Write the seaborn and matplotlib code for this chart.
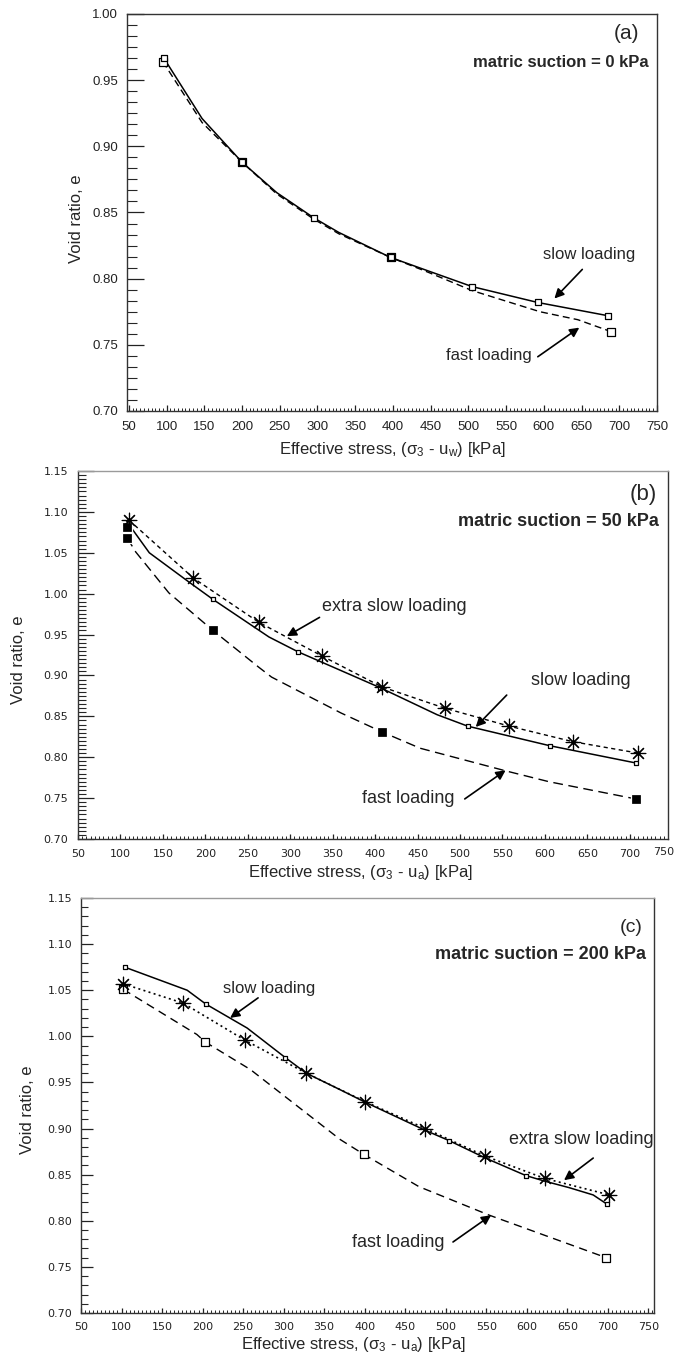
import numpy as np
import pandas as pd
import matplotlib
matplotlib.use("Agg")
import matplotlib.pyplot as plt
import matplotlib.transforms as mtransforms
from matplotlib.ticker import MultipleLocator, AutoMinorLocator, FormatStrFormatter
import seaborn as sns

# ---------------- data ----------------
# panel (a): matric suction = 0 kPa
a_slow_line_x = [96, 147, 200, 246, 295, 328, 397, 446, 505, 592, 685]
a_slow_line_y = [0.967, 0.921, 0.888, 0.865, 0.846, 0.835, 0.816, 0.806, 0.794, 0.782, 0.772]
a_slow_pts_x = [96, 200, 295, 397, 505, 592, 685]
a_slow_pts_y = [0.967, 0.888, 0.846, 0.816, 0.794, 0.782, 0.772]
a_fast_line_x = [95, 147, 200, 246, 295, 328, 397, 446, 505, 595, 645, 689]
a_fast_line_y = [0.964, 0.918, 0.888, 0.864, 0.845, 0.834, 0.816, 0.805, 0.791, 0.775, 0.769, 0.760]
a_fast_pts_x = [95, 200, 397, 689]
a_fast_pts_y = [0.964, 0.888, 0.816, 0.760]

# panel (b): matric suction = 50 kPa
b_xslow_x = [110, 186, 263, 337, 408, 482, 558, 633, 710]
b_xslow_y = [1.090, 1.019, 0.965, 0.924, 0.886, 0.860, 0.838, 0.819, 0.805]
b_slow_line_x = [109, 134, 181, 209, 275, 309, 406, 473, 509, 606, 707]
b_slow_line_y = [1.086, 1.050, 1.014, 0.993, 0.947, 0.929, 0.885, 0.852, 0.838, 0.814, 0.793]
b_slow_pts_x = [109, 209, 309, 406, 509, 606, 707]
b_slow_pts_y = [1.086, 0.993, 0.929, 0.885, 0.838, 0.814, 0.793]
b_fast_line_x = [108, 118, 157, 209, 263, 278, 360, 408, 453, 555, 605, 707]
b_fast_line_y = [1.068, 1.051, 1.001, 0.955, 0.910, 0.898, 0.854, 0.831, 0.811, 0.783, 0.770, 0.749]
b_fast_pts_x = [108, 108, 209, 408, 707]
b_fast_pts_y = [1.081, 1.068, 0.955, 0.831, 0.749]

# panel (c): matric suction = 200 kPa
c_xslow_x = [102, 176, 252, 328, 401, 475, 549, 622, 702]
c_xslow_y = [1.057, 1.036, 0.996, 0.960, 0.929, 0.900, 0.870, 0.846, 0.828]
c_slow_line_x = [104, 181, 204, 255, 302, 328, 370, 402, 475, 504, 549, 599, 622, 652, 682, 699]
c_slow_line_y = [1.075, 1.050, 1.035, 1.009, 0.977, 0.960, 0.942, 0.928, 0.898, 0.887,
                 0.868, 0.849, 0.843, 0.836, 0.828, 0.818]
c_slow_pts_x = [104, 204, 302, 504, 599, 699]
c_slow_pts_y = [1.075, 1.035, 0.977, 0.887, 0.849, 0.818]
c_fast_line_x = [102, 193, 203, 259, 370, 399, 467, 554, 698]
c_fast_line_y = [1.051, 1.002, 0.994, 0.964, 0.888, 0.872, 0.837, 0.806, 0.760]
c_fast_pts_x = [102, 203, 399, 698]
c_fast_pts_y = [1.051, 0.994, 0.872, 0.760]

x_label_w = "Effective stress, (\u03c3$_3$ - u$_w$) [kPa]"
x_label_a = "Effective stress, (\u03c3$_3$ - u$_a$) [kPa]"
y_label = "Void ratio, e"

# ---------------- style ----------------
sns.set_theme(style="ticks")
plt.rcParams["font.family"] = ["Liberation Sans", "DejaVu Sans"]
plt.rcParams["mathtext.fontset"] = "custom"
plt.rcParams["mathtext.rm"] = "Liberation Sans"
plt.rcParams["mathtext.it"] = "Liberation Sans"
plt.rcParams["mathtext.bf"] = "Liberation Sans:bold"

W, H = 676, 1358
fig = plt.figure(figsize=(W / 100, H / 100), dpi=100)


def add_ax(l, r, t, b):
    return fig.add_axes([l / W, 1 - b / H, (r - l) / W, (b - t) / H])


def line(ax, x, y, ls, lw=1.0):
    df = pd.DataFrame({"x": x, "y": y})
    sns.lineplot(data=df, x="x", y="y", ax=ax, color="black", linestyle=ls,
                 linewidth=lw, estimator=None, sort=False, zorder=2)


def pts(ax, x, y, marker, size, face="white", lw=0.9):
    df = pd.DataFrame({"x": x, "y": y})
    if face is None:
        sns.scatterplot(data=df, x="x", y="y", ax=ax, marker=marker, s=size,
                        color="black", linewidth=lw, zorder=3)
    else:
        sns.scatterplot(data=df, x="x", y="y", ax=ax, marker=marker, s=size,
                        color=face, edgecolor="black", linewidth=lw, zorder=3)


def style_axes(ax, xlim, ylim, yminor, ylen, xlen, ypad, xpad, tick_font, tick_size,
               top_color):
    ax.set_xlim(*xlim)
    ax.set_ylim(*ylim)
    ax.xaxis.set_major_locator(MultipleLocator(50))
    ax.xaxis.set_minor_locator(MultipleLocator(5))
    ax.yaxis.set_major_locator(MultipleLocator(0.05))
    ax.yaxis.set_minor_locator(AutoMinorLocator(yminor))
    ax.yaxis.set_major_formatter(FormatStrFormatter("%.2f"))
    ax.tick_params(axis="y", which="major", direction="in", length=ylen[0], width=0.9,
                   pad=ypad, labelsize=tick_size, colors="#222222")
    ax.tick_params(axis="y", which="minor", direction="in", length=ylen[1], width=0.8)
    ax.tick_params(axis="x", which="major", direction="in", length=xlen[0], width=0.9,
                   pad=xpad, labelsize=tick_size, colors="#222222")
    ax.tick_params(axis="x", which="minor", direction="in", length=xlen[1], width=0.7)
    for lbl in ax.get_xticklabels() + ax.get_yticklabels():
        lbl.set_fontfamily(tick_font)
    for s in ["left", "bottom", "right"]:
        ax.spines[s].set_color("#333333")
        ax.spines[s].set_linewidth(1.0)
    ax.spines["top"].set_color(top_color)
    ax.spines["top"].set_linewidth(1.0)


arrow_kw = dict(arrowstyle="-|>", color="black", lw=1.2, mutation_scale=14,
                shrinkA=0, shrinkB=0)

# ---------------- panel (a) ----------------
ax = add_ax(127, 657, 14, 411)
line(ax, a_slow_line_x, a_slow_line_y, "-", 1.1)
line(ax, a_fast_line_x, a_fast_line_y, (0, (5, 3)), 1.0)
pts(ax, a_fast_pts_x, a_fast_pts_y, "s", 36)
pts(ax, a_slow_pts_x, a_slow_pts_y, "s", 14)
style_axes(ax, (47.5, 750), (0.70, 1.00), 6, (12, 7), (4.5, 2.5), 6.5, 7,
           "Liberation Sans", 9.5, "#333333")
ax.set_xlabel(x_label_w, fontsize=12, va="center", ha="center")
ax.xaxis.set_label_coords(0.5, -0.097)
ax.set_ylabel(y_label, fontsize=12, va="center", ha="center")
ax.yaxis.set_label_coords(-0.096, 0.485)
ax.text(0.943, 0.952, "(a)", transform=ax.transAxes, fontsize=15, ha="center", va="center")
ax.text(0.985, 0.877, "matric suction = 0 kPa", transform=ax.transAxes, fontsize=12,
        fontweight="bold", ha="right", va="center")
ax.text(0.872, 0.395, "slow loading", transform=ax.transAxes, fontsize=12,
        ha="center", va="center")
ax.text(0.683, 0.139, "fast loading", transform=ax.transAxes, fontsize=12,
        ha="center", va="center")
ax.annotate("", xy=(614, 0.785), xytext=(651, 0.807), arrowprops=arrow_kw)
ax.annotate("", xy=(647, 0.763), xytext=(592, 0.741), arrowprops=arrow_kw)

# ---------------- panel (b) ----------------
ax = add_ax(78, 668, 471, 839)
line(ax, b_xslow_x, b_xslow_y, (0, (3, 2.5)), 1.0)
line(ax, b_slow_line_x, b_slow_line_y, "-", 1.1)
line(ax, b_fast_line_x, b_fast_line_y, (0, (7, 4)), 1.0)
pts(ax, b_slow_pts_x, b_slow_pts_y, "s", 12)
pts(ax, b_fast_pts_x, b_fast_pts_y, "s", 45, face=None)
pts(ax, b_xslow_x, b_xslow_y, (8, 2, 0), 110, face=None, lw=0.85)
style_axes(ax, (50, 745), (0.70, 1.15), 10, (11.5, 5.8), (3.6, 2.2), 7, 7.5,
           "DejaVu Sans", 8, "#9a9a9a")
ax.text(740, -0.021, "750", transform=mtransforms.blended_transform_factory(ax.transData, ax.transAxes),
        fontsize=8, family="DejaVu Sans", color="#222222", ha="center", va="top", clip_on=False)
ax.set_xlabel(x_label_a, fontsize=12, va="center", ha="center")
ax.xaxis.set_label_coords(0.478, -0.09)
ax.set_ylabel(y_label, fontsize=12, va="center", ha="center")
ax.yaxis.set_label_coords(-0.100, 0.486)
ax.text(0.958, 0.935, "(b)", transform=ax.transAxes, fontsize=16, ha="center", va="center")
ax.text(0.985, 0.864, "matric suction = 50 kPa", transform=ax.transAxes, fontsize=13,
        fontweight="bold", ha="right", va="center")
ax.text(0.536, 0.633, "extra slow loading", transform=ax.transAxes, fontsize=13,
        ha="center", va="center")
ax.text(0.852, 0.432, "slow loading", transform=ax.transAxes, fontsize=13,
        ha="center", va="center")
ax.text(0.559, 0.109, "fast loading", transform=ax.transAxes, fontsize=13,
        ha="center", va="center")
ax.annotate("", xy=(296, 0.948), xytext=(334.5, 0.971), arrowprops=arrow_kw)
ax.annotate("", xy=(518.5, 0.837), xytext=(555, 0.876), arrowprops=arrow_kw)
ax.annotate("", xy=(553.7, 0.784), xytext=(505.6, 0.749), arrowprops=arrow_kw)

# ---------------- panel (c) ----------------
ax = add_ax(81, 654, 898, 1313)
line(ax, c_xslow_x, c_xslow_y, (0, (1.2, 2.0)), 1.2)
line(ax, c_slow_line_x, c_slow_line_y, "-", 1.1)
line(ax, c_fast_line_x, c_fast_line_y, (0, (6, 4)), 1.0)
pts(ax, c_slow_pts_x, c_slow_pts_y, "s", 12)
pts(ax, c_fast_pts_x, c_fast_pts_y, "s", 30)
pts(ax, c_xslow_x, c_xslow_y, (8, 2, 0), 110, face=None, lw=0.85)
style_axes(ax, (50, 757), (0.70, 1.15), 5, (8.6, 4.7), (3.6, 2.2), 6.5, 6.5,
           "DejaVu Sans", 8, "#9a9a9a")
ax.set_xlabel(x_label_a, fontsize=12, va="center", ha="center")
ax.xaxis.set_label_coords(0.476, -0.077)
ax.set_ylabel(y_label, fontsize=12, va="center", ha="center")
ax.yaxis.set_label_coords(-0.093, 0.49)
ax.text(0.960, 0.928, "(c)", transform=ax.transAxes, fontsize=14, ha="center", va="center")
ax.text(0.986, 0.863, "matric suction = 200 kPa", transform=ax.transAxes, fontsize=13,
        fontweight="bold", ha="right", va="center")
ax.text(0.328, 0.783, "slow loading", transform=ax.transAxes, fontsize=12,
        ha="center", va="center")
ax.text(0.873, 0.417, "extra slow loading", transform=ax.transAxes, fontsize=13,
        ha="center", va="center")
ax.text(0.553, 0.171, "fast loading", transform=ax.transAxes, fontsize=13,
        ha="center", va="center")
ax.annotate("", xy=(234, 1.020), xytext=(268.5, 1.0417), arrowprops=arrow_kw)
ax.annotate("", xy=(646, 0.844), xytext=(682, 0.868), arrowprops=arrow_kw)
ax.annotate("", xy=(556, 0.806), xytext=(509, 0.777), arrowprops=arrow_kw)

fig.savefig("out.png", dpi=100)
